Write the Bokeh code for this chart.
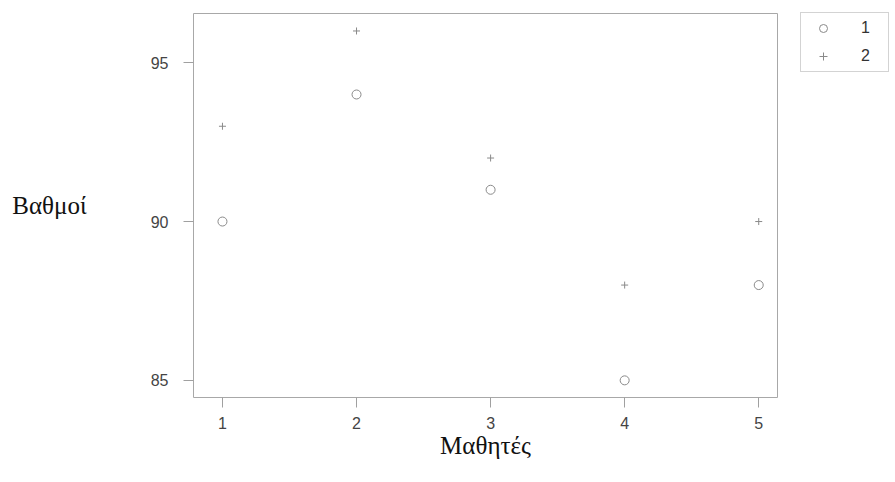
from bokeh.plotting import figure
from bokeh.models import Legend, LegendItem, FixedTicker, Range1d
from bokeh.embed import file_html
from bokeh.resources import INLINE

students = [1, 2, 3, 4, 5]
grades_1 = [90, 94, 91, 85, 88]
grades_2 = [93, 96, 92, 88, 90]
x_ticks = [1, 2, 3, 4, 5]
y_ticks = [85, 90, 95]
series_names = ["1", "2"]
x_label = "Μαθητές"
y_label = "Βαθμοί"

p = figure(frame_width=584, frame_height=384, output_backend="svg",
           toolbar_location=None,
           x_range=Range1d(0.784, 5.14), y_range=Range1d(84.46, 96.55),
           min_border_left=193, min_border_top=13, min_border_right=0,
           min_border_bottom=77)
p.grid.visible = False
p.outline_line_color = "#a8a8a8"
p.outline_line_width = 1

for ax in (p.xaxis[0], p.yaxis[0]):
    ax.axis_line_color = None
    ax.minor_tick_line_color = None
    ax.major_tick_in = 0
    ax.major_tick_out = 10
    ax.major_tick_line_color = "#a0a0a0"
    ax.major_label_text_font = "Liberation Sans"
    ax.major_label_text_font_size = "16px"
    ax.major_label_text_color = "#444444"
    ax.axis_label_text_font = "Liberation Serif"
    ax.axis_label_text_font_size = "25px"
    ax.axis_label_text_font_style = "normal"
    ax.axis_label_text_color = "#111111"
p.xaxis.ticker = FixedTicker(ticks=x_ticks)
p.yaxis.ticker = FixedTicker(ticks=y_ticks)
p.xaxis.major_label_standoff = 9
p.yaxis.major_label_standoff = 15

p.xaxis.axis_label = x_label
p.xaxis.axis_label_standoff = 0
yax = p.yaxis[0]
yax.axis_label = y_label
yax.axis_label_orientation = "horizontal"
yax.axis_label_standoff = 61
yax.axis_label_text_baseline = "bottom"

r1 = p.scatter(students, grades_1, marker="circle", size=9, fill_color=None,
               line_color="#8a8a8a", line_width=1)
r2 = p.scatter(students, grades_2, marker="cross", size=7,
               line_color="#8a8a8a", line_width=1)

legend = Legend(items=[LegendItem(label=series_names[0], renderers=[r1]),
                       LegendItem(label=series_names[1], renderers=[r2])],
                location=(23, 325), orientation="vertical")
legend.border_line_color = "#a8a8a8"
legend.padding = 5
legend.spacing = 8
legend.glyph_width = 34
legend.glyph_height = 20
legend.label_standoff = 21
legend.label_width = 22
legend.label_text_font = "Liberation Sans"
legend.label_text_font_size = "16px"
legend.label_text_color = "#333333"
legend.margin = 0
p.add_layout(legend, "right")

open("out.html", "w").write(file_html(p, INLINE))
